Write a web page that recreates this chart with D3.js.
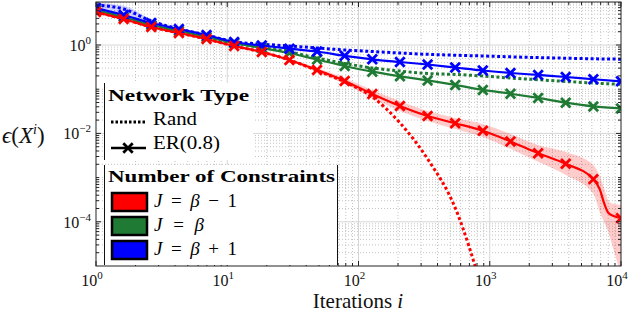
<!DOCTYPE html>
<html>
<head>
<meta charset="utf-8">
<script src="https://cdn.jsdelivr.net/npm/d3@7"></script>
<style>
  body { margin: 0; background: #fff; }
  text { font-family: "Liberation Serif", "DejaVu Serif", serif; }
</style>
</head>
<body>
<svg id="chart" width="636" height="316"></svg>
<script>
// ---- data ----
// iteration counts where the ER markers sit (log spaced)
const markerIters = [1, 1.624, 2.637, 4.281, 6.952, 11.29, 18.33, 29.76, 48.33, 78.48, 127.4, 206.9, 336.0, 545.6, 885.9, 1438, 2336, 3793, 6158, 10000];

// ER(0.8) series (solid, with markers)
const blueEr  = [6.86, 4.76, 3.14, 2.30, 1.68, 1.17, 0.974, 0.825, 0.713, 0.570, 0.475, 0.413, 0.362, 0.310, 0.265, 0.233, 0.210, 0.189, 0.168, 0.151];
const greenEr = [6.18, 4.29, 2.83, 2.07, 1.52, 1.11, 0.856, 0.659, 0.470, 0.335, 0.249, 0.196, 0.158, 0.125, 0.0962, 0.0789, 0.0634, 0.0496, 0.0408, 0.0367];

// red ER has a few extra points near the end where it drops
const redErIters = [1, 1.624, 2.637, 4.281, 6.952, 11.29, 18.33, 29.76, 48.33, 78.48, 127.4, 206.9, 336.0, 545.6, 885.9, 1438, 2336, 3793, 6158, 6918, 7420, 8000, 8690, 10000];
const redEr    = [5.57, 3.87, 2.55, 1.87, 1.37, 0.949, 0.695, 0.458, 0.272, 0.154, 0.0781, 0.0418, 0.0248, 0.0170, 0.0115, 0.00659, 0.00357, 0.00205, 0.000923, 0.000528, 0.000269, 0.000160, 0.000137, 0.000121];
const redErHi  = [5.85, 4.06, 2.68, 1.96, 1.44, 1.00, 0.73, 0.49, 0.302, 0.180, 0.0962, 0.0542, 0.0322, 0.0224, 0.0164, 0.00975, 0.00550, 0.00382, 0.00194, 0.00104, 0.000586, 0.000298, 0.000255, 0.000242];
const redErLo  = [5.30, 3.69, 2.43, 1.78, 1.30, 0.90, 0.66, 0.43, 0.245, 0.131, 0.0634, 0.0322, 0.0192, 0.0126, 0.00834, 0.00447, 0.00227, 0.00115, 0.000430, 0.000160, 0.000100, 0.0000594, 0.0000258, 0.0000063];

// Rand series (dotted)
const blueRand  = [8.02, 6.51, 3.49, 2.30, 1.68, 1.19, 1.05, 0.949, 0.856, 0.771, 0.713, 0.659, 0.616, 0.588, 0.564, 0.541, 0.519, 0.503, 0.488, 0.478];
const greenRand = [6.18, 4.29, 2.83, 2.07, 1.52, 1.11, 0.878, 0.695, 0.508, 0.382, 0.302, 0.258, 0.227, 0.216, 0.199, 0.179, 0.164, 0.150, 0.138, 0.129];
const redRand   = [5.57, 3.87, 2.55, 1.87, 1.37, 0.949, 0.695, 0.458, 0.265, 0.146, 0.0668, 0.0173, 0.00265, 0.000207, 0.00000262];

// light band around the start of the blue Rand curve
const blueRandBandIters = [1, 1.624, 2.637, 4.281];
const blueRandHi = [8.9, 7.7, 3.8, 2.4];
const blueRandLo = [6.9, 4.8, 3.1, 2.2];

const xTicks = [1, 10, 100, 1000, 10000];
const xTickExp = ["0", "1", "2", "3", "4"];
const yTicks = [1, 0.01, 0.0001];
const yTickExp = ["0", "−2", "−4"];

const colors = { red: "#ff0000", green: "#1f7a34", blue: "#0000ff" };

// ---- setup ----
const svg = d3.select("#chart");
const pLeft = 96, pRight = 621, pTop = 2, pBottom = 266;

const x = d3.scaleLog().domain([1, 10000]).range([pLeft, pRight]);
const y = d3.scaleLog().domain([1e-5, 9.4]).range([pBottom, pTop]);

svg.append("clipPath").attr("id", "clip")
  .append("rect").attr("x", pLeft).attr("y", pTop).attr("width", pRight - pLeft).attr("height", pBottom - pTop);

// ---- grid ----
const grid = svg.append("g");
const minorX = [], minorY = [];
for (let e = 0; e < 4; e++) for (let m = 2; m <= 9; m++) minorX.push(m * Math.pow(10, e));
for (let e = -5; e < 1; e++) for (let m = 1; m <= 9; m++) {
  const v = m * Math.pow(10, e);
  if (v > 1.01e-5 && v < 9.4 && !yTicks.some(t => Math.abs(t - v) / t < 1e-6)) minorY.push(v);
}
grid.selectAll(null).data(minorX).enter().append("line")
  .attr("x1", d => x(d)).attr("x2", d => x(d)).attr("y1", pTop).attr("y2", pBottom)
  .attr("stroke", "#c4c4c4").attr("stroke-width", 1).attr("stroke-dasharray", "1,2");
grid.selectAll(null).data(minorY).enter().append("line")
  .attr("y1", d => y(d)).attr("y2", d => y(d)).attr("x1", pLeft).attr("x2", pRight)
  .attr("stroke", "#c4c4c4").attr("stroke-width", 1).attr("stroke-dasharray", "1,2");
grid.selectAll(null).data(xTicks.slice(1, 4)).enter().append("line")
  .attr("x1", d => x(d)).attr("x2", d => x(d)).attr("y1", pTop).attr("y2", pBottom)
  .attr("stroke", "#d6d6d6").attr("stroke-width", 1);
grid.selectAll(null).data(yTicks).enter().append("line")
  .attr("y1", d => y(d)).attr("y2", d => y(d)).attr("x1", pLeft).attr("x2", pRight)
  .attr("stroke", "#d6d6d6").attr("stroke-width", 1);

// ---- curves ----
const plot = svg.append("g").attr("clip-path", "url(#clip)");

const area = d3.area()
  .x(d => x(d.i)).y0(d => y(d.lo)).y1(d => y(d.hi))
  .curve(d3.curveMonotoneX);
const line = d3.line()
  .x(d => x(d.i)).y(d => y(d.v))
  .curve(d3.curveMonotoneX);

plot.append("path")
  .datum(blueRandBandIters.map((i, k) => ({ i, lo: blueRandLo[k], hi: blueRandHi[k] })))
  .attr("d", area).attr("fill", colors.blue).attr("opacity", 0.18);
plot.append("path")
  .datum(redErIters.map((i, k) => ({ i, lo: redErLo[k], hi: redErHi[k] })))
  .attr("d", area).attr("fill", colors.red).attr("opacity", 0.2);

const randSeries = [
  { vals: redRand, color: colors.red },
  { vals: greenRand, color: colors.green },
  { vals: blueRand, color: colors.blue }
];
randSeries.forEach(s => {
  plot.append("path")
    .datum(s.vals.map((v, k) => ({ i: markerIters[k], v })))
    .attr("d", line).attr("fill", "none")
    .attr("stroke", s.color).attr("stroke-width", 3).attr("stroke-dasharray", "3,2.5");
});

const erSeries = [
  { iters: markerIters, vals: greenEr, color: colors.green },
  { iters: markerIters, vals: blueEr, color: colors.blue },
  { iters: redErIters, vals: redEr, color: colors.red }
];
const xMark = d3.symbol().type(d3.symbolX).size(60);
erSeries.forEach(s => {
  const pts = s.vals.map((v, k) => ({ i: s.iters[k], v }));
  plot.append("path").datum(pts)
    .attr("d", line).attr("fill", "none")
    .attr("stroke", s.color).attr("stroke-width", 2.2);
  plot.selectAll(null).data(pts.filter(p => markerIters.includes(p.i))).enter()
    .append("path").attr("d", xMark)
    .attr("transform", d => `translate(${x(d.i)},${y(d.v)})`)
    .attr("fill", "none").attr("stroke", s.color).attr("stroke-width", 2.8);
});

// ---- axes box and ticks ----
const ax = svg.append("g").attr("stroke", "#222").attr("stroke-width", 1);
ax.append("rect").attr("x", pLeft).attr("y", pTop).attr("width", pRight - pLeft).attr("height", pBottom - pTop)
  .attr("fill", "none");

[[pLeft, 1], [pRight, -1]].forEach(([x0, dir]) => {
  ax.selectAll(null).data(yTicks).enter().append("line")
    .attr("x1", x0).attr("x2", x0 + dir * 5).attr("y1", d => y(d)).attr("y2", d => y(d));
  ax.selectAll(null).data(minorY).enter().append("line")
    .attr("x1", x0).attr("x2", x0 + dir * 3).attr("y1", d => y(d)).attr("y2", d => y(d));
});
[[pBottom, -1], [pTop, 1]].forEach(([y0, dir]) => {
  ax.selectAll(null).data(xTicks).enter().append("line")
    .attr("y1", y0).attr("y2", y0 + dir * 5).attr("x1", d => x(d)).attr("x2", d => x(d));
  ax.selectAll(null).data(minorX).enter().append("line")
    .attr("y1", y0).attr("y2", y0 + dir * 3).attr("x1", d => x(d)).attr("x2", d => x(d));
});

// tick labels
xTicks.forEach((t, k) => {
  const tx = svg.append("text").attr("x", x(t) - 4).attr("y", 286)
    .attr("text-anchor", "middle").attr("font-size", 16).attr("fill", "#111");
  tx.append("tspan").text("10");
  tx.append("tspan").attr("dy", -7).attr("font-size", 11).text(xTickExp[k]);
});
yTicks.forEach((t, k) => {
  const ty = svg.append("text").attr("x", 91).attr("y", y(t) + 6)
    .attr("text-anchor", "end").attr("font-size", 16).attr("fill", "#111");
  ty.append("tspan").text("10");
  ty.append("tspan").attr("dy", -7).attr("font-size", 11).text(yTickExp[k]);
});

// axis titles
const xl = svg.append("text").attr("x", 358).attr("y", 308)
  .attr("text-anchor", "middle").attr("font-size", 21).attr("fill", "#111");
xl.append("tspan").text("Iterations ");
xl.append("tspan").attr("font-style", "italic").text("i");

const yl = svg.append("text").attr("x", 2).attr("y", 143)
  .attr("font-size", 23).attr("fill", "#111");
yl.append("tspan").attr("font-style", "italic").text("ϵ");
yl.append("tspan").text("(");
yl.append("tspan").attr("font-style", "italic").text("X");
yl.append("tspan").attr("font-style", "italic").attr("font-size", 14).attr("dy", -9).text("i");
yl.append("tspan").attr("dy", 9).text(")");

// ---- legends ----
const lg = svg.append("g");
lg.append("rect").attr("x", 104).attr("y", 83).attr("width", 149).attr("height", 77).attr("fill", "#fff");
lg.append("line").attr("x1", 104.5).attr("x2", 104.5).attr("y1", 83).attr("y2", 160).attr("stroke", "#111");
lg.append("text").attr("x", 108).attr("y", 101).attr("font-size", 17).attr("font-weight", "bold")
  .attr("textLength", 141).attr("lengthAdjust", "spacingAndGlyphs").text("Network Type");

lg.append("line").attr("x1", 111).attr("x2", 146).attr("y1", 122).attr("y2", 122)
  .attr("stroke", "#000").attr("stroke-width", 3).attr("stroke-dasharray", "2.5,2");
lg.append("text").attr("x", 153).attr("y", 125).attr("font-size", 19)
  .attr("textLength", 44).attr("lengthAdjust", "spacingAndGlyphs").text("Rand");
lg.append("line").attr("x1", 111).attr("x2", 146).attr("y1", 148).attr("y2", 148)
  .attr("stroke", "#000").attr("stroke-width", 2.5);
lg.append("path").attr("d", xMark).attr("transform", "translate(128,148)")
  .attr("fill", "none").attr("stroke", "#000").attr("stroke-width", 2.8);
lg.append("text").attr("x", 153).attr("y", 149).attr("font-size", 19)
  .attr("textLength", 67).attr("lengthAdjust", "spacingAndGlyphs").text("ER(0.8)");

lg.append("rect").attr("x", 104).attr("y", 165).attr("width", 234).attr("height", 100).attr("fill", "#fff");
lg.append("line").attr("x1", 104.5).attr("x2", 104.5).attr("y1", 165).attr("y2", 265).attr("stroke", "#111");
lg.append("line").attr("x1", 337.5).attr("x2", 337.5).attr("y1", 165).attr("y2", 265).attr("stroke", "#111");
lg.append("text").attr("x", 108).attr("y", 182).attr("font-size", 17).attr("font-weight", "bold")
  .attr("textLength", 227).attr("lengthAdjust", "spacingAndGlyphs").text("Number of Constraints");

const patches = [
  { color: colors.red, y0: 193, rest: " − 1", w: 83 },
  { color: colors.green, y0: 217, rest: "", w: 50 },
  { color: colors.blue, y0: 241, rest: " + 1", w: 83 }
];
patches.forEach(p => {
  lg.append("rect").attr("x", 112).attr("y", p.y0).attr("width", 35).attr("height", 18)
    .attr("fill", p.color).attr("stroke", "#000").attr("stroke-width", 2.5);
  const t = lg.append("text").attr("x", 154).attr("y", p.y0 + 14).attr("font-size", 19)
    .attr("textLength", p.w).attr("lengthAdjust", "spacing");
  t.append("tspan").attr("font-style", "italic").text("J");
  t.append("tspan").text(" = ");
  t.append("tspan").attr("font-style", "italic").text("β");
  if (p.rest) t.append("tspan").text(p.rest);
});
</script>
</body>
</html>
